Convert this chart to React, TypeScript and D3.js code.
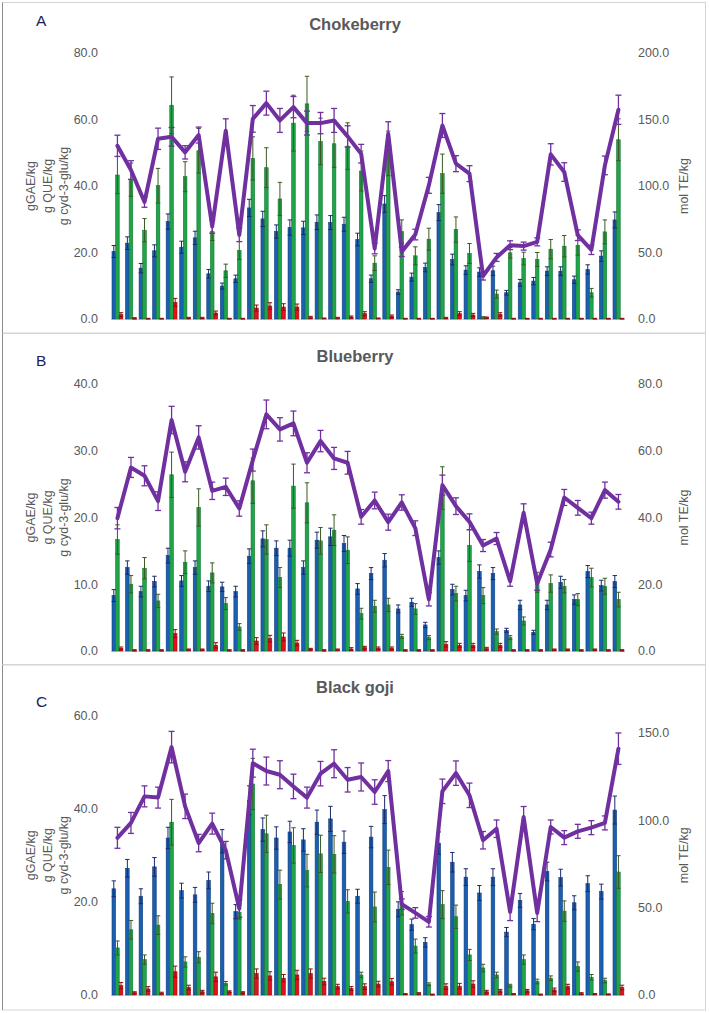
import React from 'react';
import * as d3 from 'd3';

// ---------- categories ----------
const samples = [1,2,3,4,5,6,7,8,9,10,11,12,13,14,15,16,17,18,19,20,21,22,23,24,25,26,27,28,29,30,31,32,33,34,35,36,37,38];

// ---------- A: Chokeberry ----------
const tpcA = [20.3,22.8,15.3,20.5,29.3,21.6,24.4,13.6,9.9,12.1,33.4,30.1,26.3,27.5,27.4,29.1,29.0,28.5,23.9,12.1,34.6,8.1,12.6,15.5,32.0,17.9,14.7,14.1,14.5,7.9,10.9,11.4,14.4,14.4,11.8,14.9,18.9,29.8];
const tfcA = [43.3,41.9,26.7,40.1,64.3,42.8,50.6,26.3,14.5,20.6,48.3,45.5,36.1,58.9,64.7,53.4,52.7,52.0,44.5,16.8,49.8,26.3,19.0,24.0,43.7,26.9,19.7,0.4,7.5,19.9,18.2,17.9,21.0,21.9,22.2,7.9,26.2,53.9];
const antA = [1.3,0.2,0.1,0.1,5.0,0.3,0.3,1.8,0.1,0.1,3.3,3.9,3.6,3.6,0.5,0.2,0.3,0.6,1.6,0.2,0.8,0.1,0.1,0.1,0.3,1.6,1.2,0.4,1.4,0.1,0.1,0.1,0.1,0.1,0.1,0.1,0.1,0.1];
const teA = [130.2,112.0,88.0,135.5,137.0,125.3,138.3,69.5,141.5,63.2,150.5,162.3,149.3,159.3,147.3,147.3,149.3,137.3,124.3,53.0,139.3,50.5,63.5,100.5,145.5,116.8,109.3,32.3,46.3,55.5,54.8,58.0,123.8,110.5,63.0,52.0,115.5,157.3];
const tpcErrA = [1.8,1.9,1.4,1.8,2.3,1.8,2.0,1.3,0.9,1.1,2.6,2.3,2.0,2.3,2.0,2.2,2.1,2.1,1.9,1.1,2.5,0.7,1.2,1.3,2.4,1.6,1.3,1.3,1.4,0.7,1.0,1.1,1.3,1.3,1.1,1.4,1.6,2.4];
const tfcErrA = [5.6,5.0,3.5,5.2,8.5,4.5,6.7,2.7,2.0,2.7,6.5,6.0,5.0,8.4,8.3,7.0,7.1,7.0,6.0,2.2,6.7,3.5,2.7,3.3,5.9,3.8,3.0,0.3,1.2,1.6,1.9,2.1,2.9,3.2,3.0,1.3,3.6,6.3];
const antErrA = [0.6,0.2,0.1,0.1,1.2,0.2,0.2,0.6,0.1,0.1,0.9,1.0,1.0,0.9,0.3,0.1,0.2,0.3,0.6,0.1,0.4,0.1,0.1,0.1,0.2,0.6,0.5,0.2,0.5,0.1,0.1,0.1,0.1,0.1,0.1,0.1,0.1,0.1];
const teErrA = [8,7,4,8,7,5,6,5,9,5,10,9,9,8,9,8,9,8,7,4,9,3.5,4,6,9,6,6,3,3,3.3,3,3,8,7,4,3.5,7,11];

// ---------- B: Blueberry ----------
const tpcB = [8.3,12.5,8.9,10.4,14.3,10.5,12.5,9.7,9.6,8.9,14.2,16.8,15.4,15.4,12.5,16.6,17.1,16.1,9.3,11.6,13.6,6.3,7.3,3.9,14.0,9.2,8.3,11.9,11.6,3.1,6.9,2.8,6.9,10.3,7.7,11.9,9.8,10.4];
const tfcB = [16.7,10.0,12.4,7.5,26.4,13.3,21.5,11.7,7.1,3.6,25.5,16.7,11.0,24.7,22.2,16.5,18.1,15.1,5.6,6.7,6.9,2.2,6.3,2.0,24.4,8.6,15.8,8.3,2.9,2.0,4.5,10.3,10.1,9.7,7.7,11.0,9.7,7.7];
const antB = [0.4,0.1,0.1,0.1,2.6,0.2,0.2,0.85,0.1,0.1,1.5,1.85,2.1,1.2,0.3,0.1,0.2,0.3,0.5,0.4,0.4,0.1,0.1,0.1,1.0,0.85,0.85,0.35,0.85,0.1,0.1,0.1,0.2,0.2,0.1,0.2,0.1,0.1];
const teB = [39.8,55.0,52.5,44.9,69.2,53.7,64.0,48.0,49.2,42.7,57.2,70.9,66.4,68.2,56.4,62.9,57.7,56.4,40.2,45.1,38.6,44.5,36.8,15.5,49.7,43.4,38.7,31.6,33.7,20.9,41.4,20.2,30.4,46.0,42.9,39.8,48.2,44.7];
const tpcErrB = [0.9,1.0,0.8,0.8,1.1,0.8,1.0,0.8,0.7,0.8,1.1,1.2,1.1,1.2,1.0,1.2,1.3,1.2,0.8,0.9,1.0,0.6,0.6,0.4,1.0,0.8,0.8,1.0,0.9,0.3,0.7,0.3,0.7,0.9,0.7,0.9,0.8,0.9];
const tfcErrB = [2.2,1.3,1.6,1.0,3.4,1.7,2.8,1.5,0.9,0.5,3.4,2.2,1.5,3.3,3.0,2.0,2.3,2.0,0.8,0.9,1.0,0.3,0.8,0.3,3.2,1.1,2.4,1.2,0.4,0.3,0.6,1.5,1.3,1.0,0.9,1.4,1.2,1.1];
const antErrB = [0.2,0.1,0.1,0.1,0.6,0.1,0.1,0.4,0.1,0.1,0.5,0.5,0.6,0.4,0.1,0.1,0.1,0.2,0.2,0.2,0.2,0.1,0.1,0.1,0.4,0.3,0.3,0.2,0.3,0.1,0.1,0.1,0.1,0.1,0.1,0.1,0.1,0.1];
const teErrB = [3.2,3.0,3.0,2.8,4.1,3.0,3.5,2.6,2.6,2.3,3.3,4.3,3.5,3.7,3.0,3.2,3.3,3.4,2.2,2.5,2.4,2.3,2.2,2.0,3.0,2.5,2.4,1.8,1.8,1.5,2.7,2.0,2.2,2.4,2.2,1.8,2.4,2.2];

// ---------- C: Black goji ----------
const tpcC = [22.8,27.2,21.2,27.5,33.7,22.4,21.5,24.6,33.0,17.9,41.8,35.5,33.7,35.0,33.3,37.1,37.8,32.8,21.2,33.9,39.8,18.4,15.1,11.3,32.6,28.5,25.3,21.9,25.3,13.5,20.3,15.2,26.5,25.2,19.8,23.9,22.2,39.7];
const tfcC = [10.1,14.0,7.6,15.0,37.1,7.1,8.1,17.5,2.5,17.8,45.3,34.6,23.7,32.1,26.7,30.3,30.2,20.1,4.3,18.9,27.4,19.7,10.5,2.3,19.4,16.8,8.6,5.8,4.3,2.0,7.6,2.9,3.6,18.0,6.1,3.8,3.1,26.4];
const antC = [2.0,0.5,1.3,0.4,5.0,1.6,0.7,3.9,0.7,0.5,4.6,4.1,3.6,4.3,4.6,2.9,1.8,1.4,1.8,2.35,2.85,0.2,0.3,0.1,1.8,1.9,2.35,0.7,0.9,0.2,0.9,0.1,1.1,1.8,0.3,0.2,0.15,1.6];
const teC = [90.0,98.5,113.7,113.0,141.9,108.0,87.0,98.1,82.9,49.5,132.7,128.2,126.1,119.4,113.0,126.7,132.4,123.2,124.8,116.2,128.2,52.0,47.0,41.9,116.6,127.0,114.3,88.6,95.2,47.6,101.9,47.0,96.2,90.1,93.7,95.8,98.5,141.0];
const tpcErrC = [1.7,1.9,1.6,2.0,2.3,1.6,1.6,1.8,2.5,1.5,3.1,2.5,2.4,2.3,2.4,2.6,2.7,2.4,1.5,2.3,3.0,1.6,1.2,1.0,2.4,2.1,1.8,1.6,1.8,1.0,1.5,1.2,2.0,1.8,1.5,1.7,1.6,3.0];
const tfcErrC = [1.5,2.0,1.0,2.0,4.9,1.1,1.2,2.2,0.4,1.5,5.5,4.0,3.1,3.8,3.5,4.0,4.0,2.5,0.6,3.2,3.7,2.5,1.5,0.3,3.0,2.5,1.2,0.8,0.6,0.3,1.0,0.5,0.5,2.2,1.0,0.6,0.5,3.5];
const antErrC = [0.7,0.2,0.5,0.2,1.2,0.5,0.3,1.0,0.2,0.2,1.0,0.9,0.8,1.0,1.0,0.7,0.5,0.4,0.6,0.6,0.7,0.1,0.2,0.1,0.6,0.6,0.7,0.3,0.3,0.1,0.3,0.1,0.4,0.5,0.2,0.1,0.1,0.5];
const teErrC = [6,6,6,6,9,7,5,6,5,5,8,8,8,7,6,7,8,7,8,7,6,3,3,3,7,7,7,5,5,5,6,5,4,4,4,4,4,9];

// ---------- axis ticks ----------
const leftTicksA = [0, 20, 40, 60, 80];
const rightTicksA = [0, 50, 100, 150, 200];
const leftTicksB = [0, 10, 20, 30, 40];
const rightTicksB = [0, 20, 40, 60, 80];
const leftTicksC = [0, 20, 40, 60];
const rightTicksC = [0, 50, 100, 150];

const leftTitles = ['gGAE/kg', 'g QUE/kg', 'g cyd-3-glu/kg'];
const rightTitle = 'mol TE/kg';

const FONT = '"Liberation Sans", Arial, sans-serif';
const TICK_COLOR = '#595959';
const BLUE = '#1a5fb0';
const BLUE_EDGE = '#0f3f7c';
const GREEN = '#20a349';
const GREEN_EDGE = '#137a33';
const RED = '#e3111b';
const RED_EDGE = '#9c0a10';
const PURPLE = '#7030a0';

const xScale = d3
  .scaleBand<number>()
  .domain(samples)
  .range([110.65, 625.2])
  .paddingInner(0.2)
  .paddingOuter(0.1);

type PanelProps = {
  letter: string;
  title: string;
  frameTop: number;
  frameBottom: number;
  titleY: number;
  letterY: number;
  plotTop: number;
  plotBottom: number;
  leftMax: number;
  rightMax: number;
  leftTicks: number[];
  rightTicks: number[];
  tpc: number[];
  tfc: number[];
  ant: number[];
  te: number[];
  tpcErr: number[];
  tfcErr: number[];
  antErr: number[];
  teErr: number[];
};

function ErrBar({ x, y1, y2, color, w = 2.4, sw = 1 }: { x: number; y1: number; y2: number; color: string; w?: number; sw?: number }) {
  return (
    <g stroke={color} strokeWidth={sw} fill="none">
      <line x1={x} x2={x} y1={y1} y2={y2} />
      <line x1={x - w} x2={x + w} y1={y1} y2={y1} />
      <line x1={x - w} x2={x + w} y1={y2} y2={y2} />
    </g>
  );
}

function Panel(p: PanelProps) {
  const yL = d3.scaleLinear().domain([0, p.leftMax]).range([p.plotBottom, p.plotTop]);
  const yR = d3.scaleLinear().domain([0, p.rightMax]).range([p.plotBottom, p.plotTop]);
  const bw = xScale.bandwidth() / 3;
  const series = [
    { vals: p.tpc, errs: p.tpcErr, fill: BLUE, edge: BLUE_EDGE, err: '#1a2a6c', k: 0 },
    { vals: p.tfc, errs: p.tfcErr, fill: GREEN, edge: GREEN_EDGE, err: '#3b5a22', k: 1 },
    { vals: p.ant, errs: p.antErr, fill: RED, edge: RED_EDGE, err: '#8a1010', k: 2 },
  ];
  const cx = (i: number) => (xScale(samples[i]) as number) + xScale.bandwidth() / 2;
  const line = d3
    .line<number>()
    .x((_, i) => cx(i))
    .y((d) => yR(d));
  const midY = (p.plotTop + p.plotBottom) / 2;
  const [x0, x1] = xScale.range();
  return (
    <g>
      <rect x={2.5} y={p.frameTop} width={703} height={p.frameBottom - p.frameTop} fill="#fff" stroke="#d4d4d4" strokeWidth={1} />
      <line x1={2.5} x2={2.5} y1={p.frameTop} y2={p.frameBottom} stroke="#8c8c8c" strokeWidth={1} />
      <text x={36} y={p.letterY} fontFamily={FONT} fontSize={15.5} fill="#1c1c5c">{p.letter}</text>
      <text x={355} y={p.titleY} textAnchor="middle" fontFamily={FONT} fontSize={16.5} fontWeight="bold" fill={TICK_COLOR}>{p.title}</text>

      {p.leftTicks.map((t) => (
        <text key={'l' + t} x={98} y={yL(t)} dy="0.35em" textAnchor="end" fontFamily={FONT} fontSize={12.5} fill={TICK_COLOR}>
          {t.toFixed(1)}
        </text>
      ))}
      {p.rightTicks.map((t) => (
        <text key={'r' + t} x={638} y={yR(t)} dy="0.35em" textAnchor="start" fontFamily={FONT} fontSize={12.5} fill={TICK_COLOR}>
          {t.toFixed(1)}
        </text>
      ))}
      {leftTitles.map((s, i) => {
        const x = [30.5, 47.5, 64][i];
        return (
          <text key={s} transform={`translate(${x},${midY}) rotate(-90)`} dy="0.35em" textAnchor="middle" fontFamily={FONT} fontSize={12.5} fill={TICK_COLOR}>
            {s}
          </text>
        );
      })}
      <text transform={`translate(684,${midY}) rotate(-90)`} dy="0.35em" textAnchor="middle" fontFamily={FONT} fontSize={12.5} fill={TICK_COLOR}>
        {rightTitle}
      </text>

      <line x1={x0} x2={x1} y1={p.plotBottom + 0.5} y2={p.plotBottom + 0.5} stroke="#d9d9d9" strokeWidth={1} />

      {series.map((s) =>
        s.vals.map((v, i) => {
          const x = (xScale(samples[i]) as number) + s.k * bw;
          const y = yL(v);
          return (
            <rect key={`b${s.k}-${i}`} x={x} y={y} width={bw} height={Math.max(0, p.plotBottom - y)} fill={s.fill} stroke={s.edge} strokeWidth={0.6} />
          );
        })
      )}
      {series.map((s) =>
        s.vals.map((v, i) => {
          const x = (xScale(samples[i]) as number) + s.k * bw + bw / 2;
          const e = s.errs[i];
          return <ErrBar key={`e${s.k}-${i}`} x={x} y1={yL(Math.max(0, v - e))} y2={yL(v + e)} color={s.err} w={2.2} sw={1} />;
        })
      )}

      <path d={line(p.te) || ''} fill="none" stroke={PURPLE} strokeWidth={4} strokeLinejoin="round" strokeLinecap="round" />
      {p.te.map((v, i) => (
        <ErrBar key={`pe${i}`} x={cx(i)} y1={yR(v - p.teErr[i])} y2={yR(v + p.teErr[i])} color={PURPLE} w={3} sw={1.3} />
      ))}
    </g>
  );
}

export default function App() {
  return (
    <svg width={709} height={1013} style={{ position: 'absolute', left: 0, top: 0, background: '#fff' }}>
      <rect x={0} y={0} width={709} height={1013} fill="#fff" />
      <Panel
        letter="A" title="Chokeberry" frameTop={2.5} frameBottom={333} titleY={30} letterY={26}
        plotTop={53} plotBottom={319} leftMax={80} rightMax={200}
        leftTicks={leftTicksA} rightTicks={rightTicksA}
        tpc={tpcA} tfc={tfcA} ant={antA} te={teA}
        tpcErr={tpcErrA} tfcErr={tfcErrA} antErr={antErrA} teErr={teErrA}
      />
      <Panel
        letter="B" title="Blueberry" frameTop={333.5} frameBottom={664.5} titleY={362} letterY={366}
        plotTop={384} plotBottom={651} leftMax={40} rightMax={80}
        leftTicks={leftTicksB} rightTicks={rightTicksB}
        tpc={tpcB} tfc={tfcB} ant={antB} te={teB}
        tpcErr={tpcErrB} tfcErr={tfcErrB} antErr={antErrB} teErr={teErrB}
      />
      <Panel
        letter="C" title="Black goji" frameTop={665} frameBottom={1010} titleY={693} letterY={707}
        plotTop={715.5} plotBottom={995} leftMax={60} rightMax={160}
        leftTicks={leftTicksC} rightTicks={rightTicksC}
        tpc={tpcC} tfc={tfcC} ant={antC} te={teC}
        tpcErr={tpcErrC} tfcErr={tfcErrC} antErr={antErrC} teErr={teErrC}
      />
    </svg>
  );
}
